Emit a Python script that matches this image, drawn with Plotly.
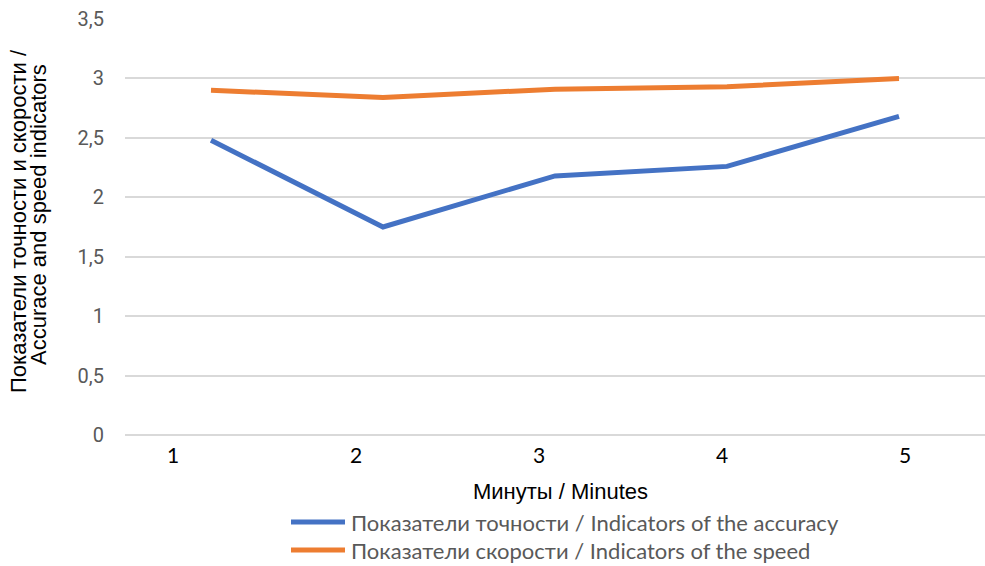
import plotly.graph_objects as go

minutes = [1, 2, 3, 4, 5]
accuracy = [2.48, 1.75, 2.18, 2.26, 2.68]
speed = [2.90, 2.84, 2.91, 2.93, 3.00]
tick_labels = ["1", "2", "3", "4", "5"]
y_ticks = [0, 0.5, 1, 1.5, 2, 2.5, 3, 3.5]

series_names = [
    "Показатели точности / Indicators of the accuracy",
    "Показатели скорости / Indicators of the speed",
]
y_title_lines = ["Показатели точности и скорости /", "Accurace and speed indicators"]
x_title = "Минуты / Minutes"
colors = ["#4472C4", "#ED7D31"]

# plot area in pixels (985x566 canvas)
W, H = 985, 566
L, R, T, B = 125, 985, 19, 435


def px_x(x):
    return (x - L) / (R - L)


def px_y(y):
    return (B - y) / (B - T)


fig = go.Figure()
for name, vals, col in zip(series_names, [accuracy, speed], colors):
    fig.add_trace(go.Scatter(
        x=minutes, y=vals, name=name, mode="lines",
        line=dict(color=col, width=5), showlegend=False,
    ))

# category labels in the source sit a little left of the points
label_pos = [0.78 + 1.064 * i for i in range(len(tick_labels))]

fig.update_layout(
    width=W, height=H,
    margin=dict(l=L, r=W - R, t=T, b=H - B),
    plot_bgcolor="white", paper_bgcolor="white",
    separators=", ",
    xaxis=dict(
        range=[0.5, 5.5], tickvals=label_pos, ticktext=tick_labels,
        showgrid=False, zeroline=False, showline=False,
        tickfont=dict(family="Lato", size=21, color="#000000"),
        ticklabelstandoff=6,
    ),
    yaxis=dict(
        range=[0, 3.5], tickvals=y_ticks,
        showgrid=True, gridcolor="#D9D9D9", gridwidth=1.5,
        zeroline=True, zerolinecolor="#D9D9D9", zerolinewidth=1.5,
        tickfont=dict(family="Roboto", size=20, color="#595959"),
        ticklabelstandoff=20,
    ),
)

# axis titles
for line, cx, cy in zip(y_title_lines, [18, 38], [221, 215]):
    fig.add_annotation(
        text=line, x=px_x(cx), y=px_y(cy), xref="paper", yref="paper", textangle=-90,
        xanchor="center", yanchor="middle", showarrow=False,
        font=dict(family="Liberation Sans", size=22, color="#000000"),
    )
fig.add_annotation(
    text=x_title, x=px_x(560), y=px_y(491), xref="paper", yref="paper",
    xanchor="center", yanchor="middle", showarrow=False,
    font=dict(family="Liberation Sans", size=22, color="#000000"),
)

# legend drawn by hand so the line samples match the source length
for i, (name, col) in enumerate(zip(series_names, colors)):
    yy = 522 + 28 * i
    fig.add_shape(type="line", xref="paper", yref="paper",
                  x0=px_x(291), x1=px_x(345), y0=px_y(yy), y1=px_y(yy),
                  line=dict(color=col, width=5))
    fig.add_annotation(text=name, x=px_x(349), y=px_y(yy), xref="paper", yref="paper",
                       xanchor="left", yanchor="middle", showarrow=False,
                       font=dict(family="Lato", size=22, color="#595959"))

# drop the default page margin and scrollbars so the figure fills the window
fig.write_html("out.html", config={"displayModeBar": False},
               post_script="document.body.style.margin='0';"
                           "document.body.style.overflow='hidden';")
